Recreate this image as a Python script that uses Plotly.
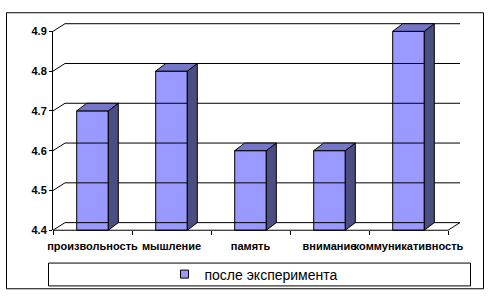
import plotly.graph_objects as go

# ---- data ----
categories = ["произвольность", "мышление", "память", "внимание", "коммуникативность"]
values = [4.7, 4.8, 4.6, 4.6, 4.9]
y_ticks = [4.4, 4.5, 4.6, 4.7, 4.8, 4.9]
series_name = "после эксперимента"

# ---- layout geometry (pixels) ----
W, H = 490, 303
L, R, T, B = 53, 466, 12, 240      # plot area
FLOOR_PX, TOP_PX = 235, 26         # pixel rows of 4.4 and 4.9 on the front axis
XPX = 79.0                          # px per category
YPX = (FLOOR_PX - TOP_PX) / (y_ticks[-1] - y_ticks[0])  # px per value unit
ymin = y_ticks[0]
n = len(categories)

WDX, WDY = 12 / XPX, 8 / YPX        # wall depth offset
BDX, BDY = 10 / XPX, 8 / YPX        # bar depth offset
BW = 0.4                            # bar width (category units)

FRONT = "#9999FF"
TOPC = "#7676C8"
SIDE = "#4B4E80"

fig = go.Figure()

# back wall gridlines with diagonals to the front axis
gx, gy = [], []
for v in y_ticks:
    gx += [0, WDX, n + WDX, None]
    gy += [v, v + WDY, v + WDY, None]
# floor front edge and right diagonal
gx += [0, n, n + WDX, None]
gy += [ymin, ymin, ymin + WDY, None]
fig.add_trace(go.Scatter(x=gx, y=gy, mode="lines", line=dict(color="black", width=1),
                         hoverinfo="skip", showlegend=False))

# bar front faces
centers = [i + 0.5 for i in range(n)]
fig.add_trace(go.Bar(x=centers, y=[v - ymin for v in values], base=[ymin] * n, width=BW,
                     marker=dict(color=FRONT, line=dict(color="black", width=1)),
                     showlegend=False, hoverinfo="skip"))

# side and top faces
sx, sy, tx, ty = [], [], [], []
for c, v in zip(centers, values):
    r = c + BW / 2
    l = c - BW / 2
    sx += [r, r, r + BDX, r + BDX, r, None]
    sy += [ymin, v, v + BDY, ymin + BDY, ymin, None]
    tx += [l, r, r + BDX, l + BDX, l, None]
    ty += [v, v, v + BDY, v + BDY, v, None]
fig.add_trace(go.Scatter(x=sx, y=sy, mode="lines", fill="toself", fillcolor=SIDE,
                         line=dict(color="black", width=1), hoverinfo="skip", showlegend=False))
fig.add_trace(go.Scatter(x=tx, y=ty, mode="lines", fill="toself", fillcolor=TOPC,
                         line=dict(color="black", width=1), hoverinfo="skip", showlegend=False))

# front value axis (separate axis so its line spans only 4.4..4.9)
fig.add_trace(go.Scatter(x=[None], y=[None], yaxis="y2", showlegend=False, hoverinfo="skip"))

# legend entry
fig.add_trace(go.Scatter(x=[None], y=[None], mode="markers", name=series_name,
                         marker=dict(symbol="square", size=8, color=FRONT,
                                     line=dict(color="black", width=1))))

pw, ph = R - L, B - T
def px_x(p):
    return (p - L) / pw
def px_y(p):
    return (B - p) / ph

tick_font = dict(size=11, family="Liberation Sans, Arial", color="black", weight="bold")

fig.update_layout(
    width=W, height=H,
    margin=dict(l=L, r=W - R, t=T, b=H - B, pad=0),
    paper_bgcolor="white", plot_bgcolor="rgba(0,0,0,0)",
    font=dict(family="Liberation Sans, Arial", color="black"),
    xaxis=dict(range=[0, pw / XPX], anchor="y2", showgrid=False, zeroline=False, showline=False,
               tickmode="array", tickvals=centers, ticktext=categories, tickangle=0,
               ticks="outside", ticklen=6, tickcolor="rgba(0,0,0,0)",
               tickfont=tick_font,
               minor=dict(tickmode="array", tickvals=list(range(n + 1)), ticks="outside",
                          ticklen=4, tickcolor="black", tickwidth=1, showgrid=False),
               fixedrange=True),
    yaxis=dict(range=[ymin - (B - FLOOR_PX) / YPX, ymin + (FLOOR_PX - T) / YPX],
               visible=False, fixedrange=True),
    yaxis2=dict(domain=[px_y(FLOOR_PX), px_y(TOP_PX)], range=[y_ticks[0], y_ticks[-1]],
                anchor="x", showline=True, linecolor="black", linewidth=1,
                tickmode="array", tickvals=y_ticks, ticktext=[f"{v:.1f}" for v in y_ticks],
                ticks="outside", ticklen=3, tickcolor="black",
                tickfont=tick_font,
                showgrid=False, zeroline=False, fixedrange=True),
    showlegend=True,
    legend=dict(orientation="h", x=px_x(254), xanchor="center", y=px_y(281.5), yanchor="middle",
                bgcolor="rgba(0,0,0,0)", borderwidth=0,
                font=dict(size=14, family="Liberation Sans, Arial", color="black")),
    shapes=[
        dict(type="rect", xref="paper", yref="paper", x0=px_x(6.5), x1=px_x(483.5),
             y0=px_y(6.5), y1=px_y(296.5), line=dict(color="black", width=1), layer="below"),
        dict(type="rect", xref="paper", yref="paper", x0=px_x(48.5), x1=px_x(470.5),
             y0=px_y(269.5), y1=px_y(293.5), line=dict(color="black", width=1), layer="below"),
    ],
)

fig.write_html("out.html", config={"displayModeBar": False})
